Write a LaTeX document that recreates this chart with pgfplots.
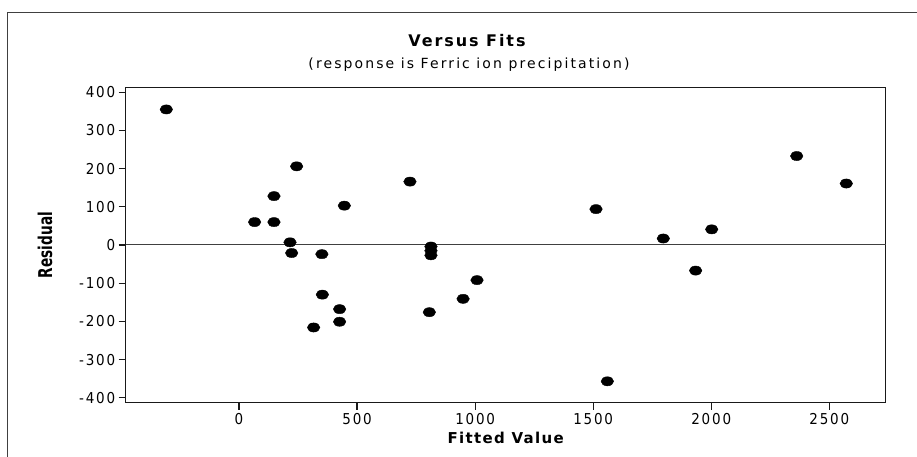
\documentclass[border=0pt]{standalone}
\usepackage{fontspec}
\setmainfont{DejaVu Sans}
\usepackage{pgfplots}
\pgfplotsset{compat=1.18}
\newfontfamily\tickfont[LetterSpace=12,FakeStretch=0.9]{DejaVu Sans}
\newfontfamily\titlefont[LetterSpace=12]{DejaVu Sans}
\newfontfamily\subfont[LetterSpace=15]{DejaVu Sans}
\newfontfamily\labfont[LetterSpace=9]{DejaVu Sans}
\newfontfamily\narrowfont[FakeStretch=0.72]{DejaVu Sans}
\begin{document}
\begin{tikzpicture}
\begin{axis}[name=ax, scale only axis, width=760pt, height=315.4pt,
  xmin=-480, xmax=2739, ymin=-413, ymax=413,
  xtick={0,500,1000,1500,2000,2500},
  ytick={-400,-300,-200,-100,0,100,200,300,400},
  tick pos=left, tick align=outside, major tick length=7pt,
  axis line style={line width=1.4pt, color=black!90},
  tick style={line width=1.2pt, black!90},
  /pgf/number format/assume math mode=true,
  /pgf/number format/set thousands separator={},
  tick label style={font=\tickfont\fontsize{15}{17}\selectfont},
  clip=false]
\addplot[draw=black!75, line width=1pt, forget plot] coordinates {(-480,0) (2739,0)};
\addplot[only marks, mark=*, mark size=4.6pt, mark options={xscale=1.37, fill=black, draw=black}] table[row sep=\\] {
x y\\
-308 355\\
244 206\\
148 128\\
446 103\\
66 60\\
148 60\\
724 166\\
216 7\\
223 -21\\
351 -24\\
813 -4\\
813 -15\\
813 -27\\
353 -130\\
426 -168\\
426 -201\\
316 -216\\
806 -176\\
949 -141\\
1008 -92\\
1512 94\\
1797 17\\
2002 41\\
2362 233\\
2572 161\\
1934 -67\\
1560 -357\\
};
\end{axis}
\coordinate (BL) at ([shift={(-125.7pt,-54.3pt)}]ax.south west);
\path[use as bounding box] (BL) rectangle ++(917pt,457pt);
\draw[line width=1.5pt, black!75] ([shift={(7.3pt,0pt)}]BL) -- ([shift={(7.3pt,444.5pt)}]BL) -- ([shift={(917pt,444.5pt)}]BL);
\node[anchor=base, inner sep=0pt, font=\titlefont\bfseries\fontsize{16}{18}\selectfont] at ([shift={(467pt,410.3pt)}]BL) {Versus Fits};
\node[anchor=base, inner sep=0pt, font=\subfont\fontsize{14}{16}\selectfont] at ([shift={(469pt,388.7pt)}]BL) {(response is Ferric ion precipitation)};
\node[anchor=base, inner sep=0pt, font=\labfont\bfseries\fontsize{15}{17}\selectfont] at ([shift={(505.7pt,13pt)}]BL) {Fitted Value};
\node[anchor=center, inner sep=0pt, rotate=90, font=\narrowfont\bfseries\fontsize{19}{21}\selectfont] at ([shift={(45pt,212pt)}]BL) {Residual};
\end{tikzpicture}
\end{document}
